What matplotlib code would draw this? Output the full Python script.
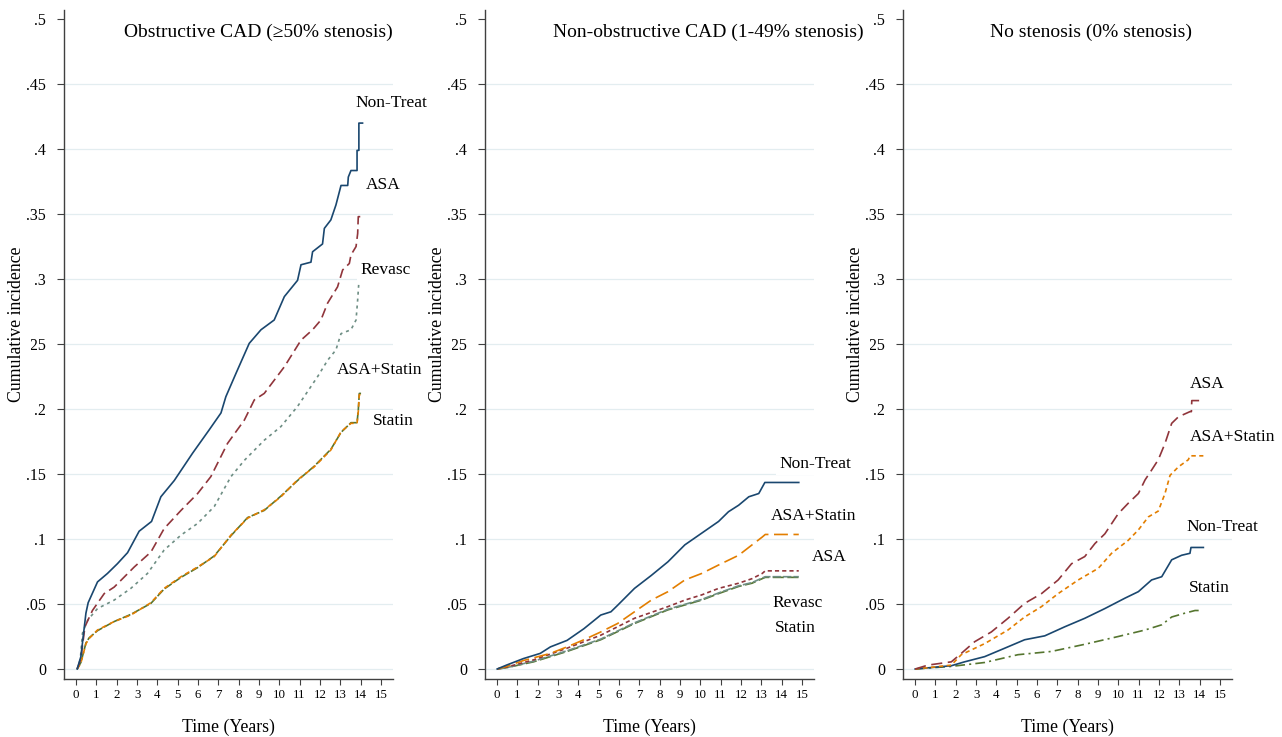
import numpy as np
import matplotlib.pyplot as plt

plt.rcParams["font.family"] = ["Liberation Serif", "DejaVu Serif"]
plt.rcParams["lines.scale_dashes"] = False

# =========================
# Data
# =========================

# --- Panel 1: Obstructive CAD ---
p1_nt_t = [0.05, 0.23, 0.48, 0.59, 1.05, 1.54, 2.03, 2.53, 3.1, 3.71, 4.17, 4.83, 5.73, 6.55,
           7.13, 7.37, 7.87, 8.52, 9.1, 9.75, 10.25, 10.9, 11.07, 11.56, 11.64, 12.13, 12.22,
           12.54, 12.79, 13.04, 13.37, 13.4, 13.53, 13.83, 13.83, 13.92, 13.92, 14.1]
p1_nt_v = [0, .0095, .043, .051, .067, .0735, .081, .0895, .106, .1135, .1325, .145, .166, .184,
           .197, .2095, .2275, .2505, .261, .2685, .2865, .299, .311, .313, .321, .327, .339,
           .3455, .357, .372, .372, .3785, .3835, .3835, .399, .399, .420, .420]

p1_asa_t = [0.05, 0.23, 0.43, 0.8, 1.38, 1.87, 2.86, 3.68, 4.33, 5.16, 5.98, 6.63, 7.45, 8.28,
            8.77, 9.26, 10.25, 11.07, 11.64, 12.05, 12.38, 12.87, 13.12, 13.45, 13.53, 13.78,
            13.86, 13.89, 14.06]
p1_asa_v = [0, .008, .0325, .045, .058, .063, .0785, .09, .108, .122, .135, .148, .1735, .1915,
            .207, .212, .2325, .253, .261, .2685, .2815, .294, .307, .312, .3185, .325,
            .335, .348, .348]

p1_rev_t = [0.05, 0.2, 0.31, 0.56, 1.05, 1.87, 2.69, 3.51, 4.33, 5.16, 5.98, 6.8, 7.62, 8.28,
            9.26, 10.08, 10.9, 11.89, 12.38, 12.79, 13.04, 13.53, 13.78, 13.86, 13.91]
p1_rev_v = [0, .007, .0275, .0375, .0465, .053, .062, .0735, .0915, .103, .112, .125, .148, .1605,
            .176, .1865, .202, .225, .2375, .2455, .258, .261, .2685, .284, .2955]

p1_as_t = [0.05, 0.23, 0.48, 0.64, 1.05, 1.87, 2.69, 3.68, 4.33, 5.16, 5.98, 6.8, 7.62, 8.44,
           9.26, 10.08, 10.9, 11.72, 12.54, 13.04, 13.53, 13.83, 13.89, 13.94, 14.07]
p1_as_v = [0, .0045, .0195, .0235, .030, .0365, .0415, .051, .062, .071, .0785, .0865, .103, .116,
           .1225, .1325, .1455, .1555, .1685, .1825, .189, .189, .198, .211, .211]

p1_st_t = [0.05, 0.23, 0.48, 0.64, 1.05, 1.87, 2.69, 3.68, 4.33, 5.16, 5.98, 6.8, 7.62, 8.44,
           9.26, 10.08, 10.9, 11.72, 12.54, 13.04, 13.53, 13.83, 13.89, 13.94, 14.07]
p1_st_v = [0, .005, .02, .024, .0295, .0365, .042, .0505, .0615, .0705, .078, .087, .1025, .1165,
           .122, .133, .145, .156, .169, .182, .1895, .1895, .199, .212, .212]

# --- Panel 2: Non-obstructive CAD ---
p2_nt_t = [0, 0.46, 1.29, 2.12, 2.62, 3.44, 4.27, 5.1, 5.6, 5.93, 6.76, 7.59, 8.41, 9.24, 10.07,
           10.9, 11.39, 11.89, 12.39, 12.88, 13.18, 14.85]
p2_nt_v = [0, .003, .008, .012, .017, .022, .031, .0415, .044, .049, .062, .072, .0825, .0955, .1045,
           .1135, .121, .126, .1325, .135, .1435, .1435]

p2_as_t = [0, 0.46, 1.29, 2.62, 3.44, 4.27, 5.1, 5.93, 6.76, 7.59, 8.41, 9.24, 10.07, 10.9, 11.89,
           12.55, 13.05, 13.2, 14.85]
p2_as_v = [0, .002, .0065, .012, .017, .0225, .0285, .035, .044, .053, .0595, .0685, .0735, .080, .0875,
           .0955, .1015, .1035, .1035]

p2_asa_t = [0, 0.46, 1.79, 3.44, 5.1, 6.76, 8.41, 9.24, 10.07, 10.9, 11.89, 12.55, 13.05, 13.2, 14.85]
p2_asa_v = [0, .0015, .007, .016, .026, .039, .048, .053, .057, .062, .066, .0695, .0735, .0755, .0755]

p2_rev_t = [0, 0.46, 1.79, 3.44, 5.1, 6.76, 8.41, 10.07, 10.9, 11.89, 12.55, 13.05, 13.2, 14.85]
p2_rev_v = [0, .001, .006, .014, .023, .0355, .046, .0535, .0585, .064, .0665, .070, .071, .071]

p2_st_t = [0, 0.46, 1.79, 3.44, 5.1, 6.76, 8.41, 10.07, 10.9, 11.89, 12.55, 13.05, 13.2, 14.85]
p2_st_v = [0, .001, .0055, .0135, .0225, .035, .0455, .053, .058, .0635, .066, .0695, .0705, .0705]

# --- Panel 3: No stenosis ---
p3_asa_t = [0, 0.63, 1.78, 2.27, 2.93, 3.75, 4.57, 5.39, 6.22, 7.04, 7.7, 8.35, 8.85, 9.34, 10.0,
            10.49, 10.99, 11.32, 11.64, 11.97, 12.3, 12.63, 12.96, 13.53, 13.6, 13.62, 14.19]
p3_asa_v = [0, .003, .0055, .012, .021, .0285, .039, .0505, .058, .0685, .081, .0865, .0965, .104, .1195,
            .1275, .135, .1455, .153, .161, .1735, .189, .194, .198, .198, .2065, .2065]

p3_as_t = [0, 0.63, 1.78, 2.27, 3.42, 4.57, 5.39, 6.22, 7.04, 8.03, 9.02, 9.67, 10.49, 10.99, 11.48,
           11.97, 12.3, 12.55, 12.96, 13.45, 13.53, 14.19]
p3_as_v = [0, .001, .003, .011, .0195, .030, .040, .048, .058, .0685, .0775, .089, .099, .107, .117,
           .1215, .135, .149, .1555, .161, .164, .164]

p3_nt_t = [0, 1.78, 2.43, 3.42, 4.41, 5.39, 6.38, 7.37, 8.35, 9.34, 10.33, 10.99, 11.64, 12.14,
           12.63, 13.12, 13.53, 13.58, 14.19]
p3_nt_v = [0, .0025, .0055, .0095, .016, .0225, .0255, .0325, .039, .0465, .0545, .0595, .0685, .071,
           .084, .0875, .089, .0935, .0935]

p3_st_t = [0, 1.78, 3.42, 5.06, 6.71, 8.35, 10.0, 11.32, 12.14, 12.63, 13.29, 13.78, 14.0]
p3_st_v = [0, .002, .005, .011, .0135, .019, .025, .030, .034, .040, .043, .045, .045]

titles = ["Obstructive CAD (\u226550% stenosis)",
          "Non-obstructive CAD (1-49% stenosis)",
          "No stenosis (0% stenosis)"]
x_ticks = list(range(0, 16))
y_ticks = [0, .05, .1, .15, .2, .25, .3, .35, .4, .45, .5]
y_ticklabels = ["0", ".05", ".1", ".15", ".2", ".25", ".3", ".35", ".4", ".45", ".5"]

# =========================
# Styles
# =========================
NAVY = "#1a476f"
MAROON = "#90353b"
TEAL = "#6e8e84"
ORANGE = "#e37e00"
GREEN = "#55752f"
GRID = "#e3edf0"
AXC = "#404040"

W, H = 1282, 737
fig = plt.figure(figsize=(W / 100, H / 100), dpi=100)


def make_axes(left_px, title, title_x):
    ax = fig.add_axes([left_px / W, (H - 679) / H, 329 / W, 669 / H])
    ax.set_xlim(-0.6, 15.6)
    ax.set_ylim(-0.0077, 0.507)
    for s in ["top", "right"]:
        ax.spines[s].set_visible(False)
    for s in ["left", "bottom"]:
        ax.spines[s].set_color(AXC)
        ax.spines[s].set_linewidth(1.0)
    ax.set_xticks(x_ticks)
    ax.set_yticks(y_ticks)
    ax.set_yticklabels(y_ticklabels)
    ax.tick_params(axis="y", length=5, width=0.8, pad=8, labelsize=11.5, colors=AXC, labelcolor="black")
    ax.tick_params(axis="x", length=4, width=0.8, pad=3, labelsize=9.3, colors=AXC, labelcolor="black")
    for yv in y_ticks[:-1]:
        ax.axhline(yv, color=GRID, lw=0.9, zorder=0)
    ax.set_xlabel("Time (Years)", fontsize=12.8, labelpad=13)
    ax.set_ylabel("Cumulative incidence", fontsize=12.8,
                  bbox=dict(facecolor="white", edgecolor="none", pad=4))
    ax.yaxis.set_label_coords(-0.118, 0.53)
    ax.text(title_x, 0.967, title, transform=ax.transAxes, ha="center", va="center", fontsize=14)
    return ax


def label(ax, x, y, s):
    ax.text(x, y, s, ha="center", va="center", fontsize=12.5, clip_on=False, zorder=10,
            bbox=dict(facecolor="white", edgecolor="none", pad=2))


LW = 1.2

# ----- Panel 1 -----
ax1 = make_axes(64, titles[0], 0.59)
ax1.plot(p1_st_t, p1_st_v, color=GREEN, lw=LW, dashes=(6, 1.5))
ax1.plot(p1_as_t, p1_as_v, color=ORANGE, lw=LW, dashes=(3.5, 2.5))
ax1.plot(p1_rev_t, p1_rev_v, color=TEAL, lw=LW, dashes=(2.2, 2.8))
ax1.plot(p1_asa_t, p1_asa_v, color=MAROON, lw=LW, dashes=(7, 3.5))
ax1.plot(p1_nt_t, p1_nt_v, color=NAVY, lw=LW)
label(ax1, 15.52, .4354, "Non-Treat")
label(ax1, 15.12, .3723, "ASA")
label(ax1, 15.22, .307, "Revasc")
label(ax1, 14.93, .230, "ASA+Statin")
label(ax1, 15.62, .1908, "Statin")

# ----- Panel 2 -----
ax2 = make_axes(485, titles[1], 0.68)
ax2.plot(p2_st_t, p2_st_v, color=GREEN, lw=LW, dashes=(8, 2.5))
ax2.plot(p2_rev_t, p2_rev_v, color=TEAL, lw=LW, dashes=(6, 1.5))
ax2.plot(p2_asa_t, p2_asa_v, color=MAROON, lw=LW, dashes=(3, 2.2))
ax2.plot(p2_as_t, p2_as_v, color=ORANGE, lw=LW, dashes=(10, 4))
ax2.plot(p2_nt_t, p2_nt_v, color=NAVY, lw=LW)
label(ax2, 15.65, .1577, "Non-Treat")
label(ax2, 15.6, .1177, "ASA+Statin")
label(ax2, 16.34, .0862, "ASA")
label(ax2, 14.8, .0508, "Revasc")
label(ax2, 14.7, .0315, "Statin")

# ----- Panel 3 -----
ax3 = make_axes(903, titles[2], 0.57)
ax3.plot(p3_st_t, p3_st_v, color=GREEN, lw=LW, dashes=(7, 3, 1.5, 3))
ax3.plot(p3_nt_t, p3_nt_v, color=NAVY, lw=LW)
ax3.plot(p3_as_t, p3_as_v, color=ORANGE, lw=LW, dashes=(3.2, 2.5))
ax3.plot(p3_asa_t, p3_asa_v, color=MAROON, lw=LW, dashes=(8, 4))
label(ax3, 14.36, .2192, "ASA")
label(ax3, 15.64, .1785, "ASA+Statin")
label(ax3, 15.15, .1092, "Non-Treat")
label(ax3, 14.5, .0623, "Statin")

fig.savefig("out.png", dpi=100, facecolor="white")
